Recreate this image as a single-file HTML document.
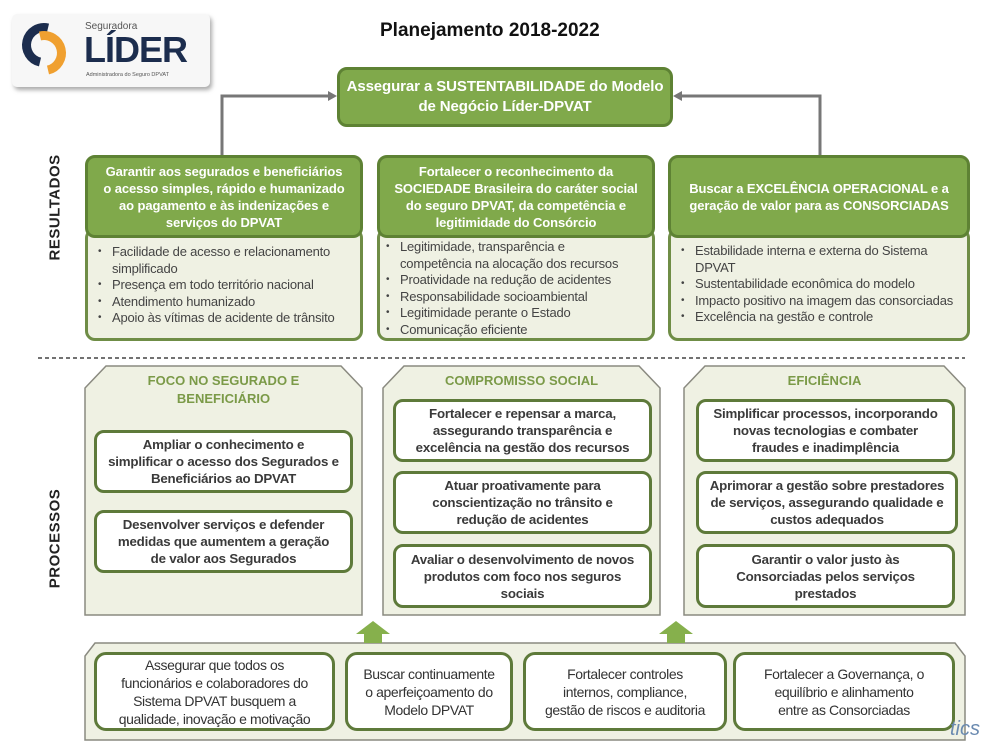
<!DOCTYPE html>
<html><head><meta charset="utf-8"><style>
*{box-sizing:border-box;margin:0;padding:0}
body{width:1000px;height:750px;background:#fff;position:relative;overflow:hidden;font-family:"Liberation Sans",sans-serif;color:#3a3a3a}
.a{position:absolute}
.g{position:absolute;background:#80a94b;border:3px solid #5e8234;border-radius:10px;color:#fff;font-weight:bold;font-size:13px;line-height:17px;text-align:center;display:flex;align-items:center;justify-content:center;padding:0 2px;letter-spacing:-0.1px;white-space:nowrap}
.p{position:absolute;background:#eff1e3;border:3px solid #6f8d46;border-radius:10px;font-size:13px;line-height:16.5px;color:#444;white-space:nowrap}
.p ul{list-style:none;padding:0}
.p li{padding-left:18px;position:relative;letter-spacing:-0.2px}
.p li:before{content:"•";position:absolute;left:4px;font-size:10px}
.w{position:absolute;background:#fff;border:3px solid #5e7a3a;border-radius:10px;font-weight:bold;font-size:13.3px;line-height:17px;text-align:center;display:flex;align-items:center;justify-content:center;color:#3a3a3a;letter-spacing:-0.2px;padding:0 2px;white-space:nowrap}
.b{position:absolute;background:#fff;border:3px solid #5e7a3a;border-radius:12px;font-size:14px;line-height:18px;text-align:center;display:flex;align-items:center;justify-content:center;color:#333;letter-spacing:-0.4px;white-space:nowrap}
.h{position:absolute;font-weight:bold;color:#7b9a48;font-size:13px;text-align:center;line-height:18px}
.v{position:absolute;transform:rotate(-90deg);font-weight:bold;font-size:15px;color:#222;letter-spacing:0.5px;white-space:nowrap;transform-origin:center}
</style></head><body>
<svg class="a" style="left:0;top:0" width="1000" height="750">
<defs><filter id="s"><feDropShadow dx="2" dy="3" stdDeviation="2" flood-color="#aaa"/></filter></defs>
<rect x="12" y="14" width="198" height="73" rx="5" fill="#f7f7f7" filter="url(#s)"/>
<path d="M48 28 A17 17 0 1 0 40 62" stroke="#1c2d4e" stroke-width="9" fill="none"/>
<path d="M40 36 A17 17 0 1 1 48 70" stroke="#f0a030" stroke-width="9" fill="none"/>
<polyline points="222,155 222,96 330,96" fill="none" stroke="#777" stroke-width="3"/>
<polygon points="337,96 328,91 328,101" fill="#777"/>
<polyline points="820,155 820,96 680,96" fill="none" stroke="#777" stroke-width="3"/>
<polygon points="673,96 682,91 682,101" fill="#777"/>
<line x1="38" y1="358" x2="965" y2="358" stroke="#444" stroke-width="1.5" stroke-dasharray="4,3"/>
<polygon points="106,366 341,366 362,388 362,615 85,615 85,388" fill="#eff1e3" stroke="#8a8a80" stroke-width="1.5"/>
<polygon points="404,366 639,366 660,388 660,615 383,615 383,388" fill="#eff1e3" stroke="#8a8a80" stroke-width="1.5"/>
<polygon points="705,366 944,366 965,388 965,615 684,615 684,388" fill="#eff1e3" stroke="#8a8a80" stroke-width="1.5"/>
<polygon points="95,643 955,643 965,656 965,740 85,740 85,656" fill="#eff1e3" stroke="#8a8a80" stroke-width="1.5"/>
<polygon points="373,621 390,634 382,634 382,643 364,643 364,634 356,634" fill="#86b04c"/>
<polygon points="676,621 693,634 685,634 685,643 667,643 667,634 659,634" fill="#86b04c"/>
</svg>
<div class="a" style="left:85px;top:21px;font-size:10px;color:#555">Seguradora</div>
<div class="a" style="left:84px;top:29px;font-size:36px;font-weight:bold;color:#1c2d4e;letter-spacing:-1px">LÍDER</div>
<div class="a" style="left:86px;top:72px;font-size:5.5px;color:#555">Administradora do Seguro DPVAT</div>
<div class="a" style="left:380px;top:20px;font-size:19px;font-weight:bold;color:#111">Planejamento 2018-2022</div>
<div class="g" style="left:337px;top:67px;width:336px;height:60px;font-size:15px;line-height:20px">Assegurar a SUSTENTABILIDADE do Modelo<br>de Negócio Líder-DPVAT</div>
<div class="v" style="left:5px;top:202px;width:100px;text-align:center">RESULTADOS</div>
<div class="v" style="left:5px;top:530px;width:100px;text-align:center">PROCESSOS</div>
<div class="p" style="left:85px;top:228px;width:278px;height:113px;padding:13px 6px 0 6px"><ul><li>Facilidade de acesso e relacionamento<br>simplificado</li><li>Presença em todo território nacional</li><li>Atendimento humanizado</li><li>Apoio às vítimas de acidente de trânsito</li></ul></div>
<div class="g" style="left:85px;top:155px;width:278px;height:83px">Garantir aos segurados e beneficiários<br>o acesso simples, rápido e humanizado<br>ao pagamento e às indenizações e<br>serviços do DPVAT</div>
<div class="p" style="left:377px;top:228px;width:278px;height:113px;padding:8px 6px 0 2px"><ul><li>Legitimidade, transparência e<br>competência na alocação dos recursos</li><li>Proatividade na redução de acidentes</li><li>Responsabilidade socioambiental</li><li>Legitimidade perante o Estado</li><li>Comunicação eficiente</li></ul></div>
<div class="g" style="left:377px;top:155px;width:278px;height:83px">Fortalecer o reconhecimento da<br>SOCIEDADE Brasileira do caráter social<br>do seguro DPVAT, da competência e<br>legitimidade do Consórcio</div>
<div class="p" style="left:668px;top:228px;width:302px;height:113px;padding:12px 6px 0 6px"><ul><li>Estabilidade interna e externa do Sistema<br>DPVAT</li><li>Sustentabilidade econômica do modelo</li><li>Impacto positivo na imagem das consorciadas</li><li>Excelência na gestão e controle</li></ul></div>
<div class="g" style="left:668px;top:155px;width:302px;height:83px">Buscar a EXCELÊNCIA OPERACIONAL e a<br>geração de valor para as CONSORCIADAS</div>
<div class="h" style="left:85px;top:372px;width:277px">FOCO NO SEGURADO E<br>BENEFICIÁRIO</div>
<div class="h" style="left:383px;top:372px;width:277px">COMPROMISSO SOCIAL</div>
<div class="h" style="left:684px;top:372px;width:281px">EFICIÊNCIA</div>
<div class="w" style="left:94px;top:430px;width:259px;height:63px">Ampliar o conhecimento e<br>simplificar o acesso dos Segurados e<br>Beneficiários ao DPVAT</div>
<div class="w" style="left:94px;top:510px;width:259px;height:63px">Desenvolver serviços e defender<br>medidas que aumentem a geração<br>de valor aos Segurados</div>
<div class="w" style="left:393px;top:399px;width:259px;height:63px">Fortalecer e repensar a marca,<br>assegurando transparência e<br>excelência na gestão dos recursos</div>
<div class="w" style="left:393px;top:471px;width:259px;height:63px">Atuar proativamente para<br>conscientização no trânsito e<br>redução de acidentes</div>
<div class="w" style="left:393px;top:544px;width:259px;height:64px">Avaliar o desenvolvimento de novos<br>produtos com foco nos seguros<br>sociais</div>
<div class="w" style="left:696px;top:399px;width:259px;height:63px">Simplificar processos, incorporando<br>novas tecnologias e combater<br>fraudes e inadimplência</div>
<div class="w" style="left:696px;top:471px;width:262px;height:63px">Aprimorar a gestão sobre prestadores<br>de serviços, assegurando qualidade e<br>custos adequados</div>
<div class="w" style="left:696px;top:544px;width:259px;height:64px">Garantir o valor justo às<br>Consorciadas pelos serviços<br>prestados</div>
<div class="b" style="left:94px;top:652px;width:241px;height:79px">Assegurar que todos os<br>funcionários e colaboradores do<br>Sistema DPVAT busquem a<br>qualidade, inovação e motivação</div>
<div class="b" style="left:345px;top:652px;width:168px;height:79px">Buscar continuamente<br>o aperfeiçoamento do<br>Modelo DPVAT</div>
<div class="b" style="left:523px;top:652px;width:204px;height:79px">Fortalecer controles<br>internos, compliance,<br>gestão de riscos e auditoria</div>
<div class="b" style="left:733px;top:652px;width:222px;height:79px">Fortalecer a Governança, o<br>equilíbrio e alinhamento<br>entre as Consorciadas</div>
<div class="a" style="left:950px;top:718px;font-size:20px;color:#6a8ab0;font-style:italic">tics</div>
</body></html>
